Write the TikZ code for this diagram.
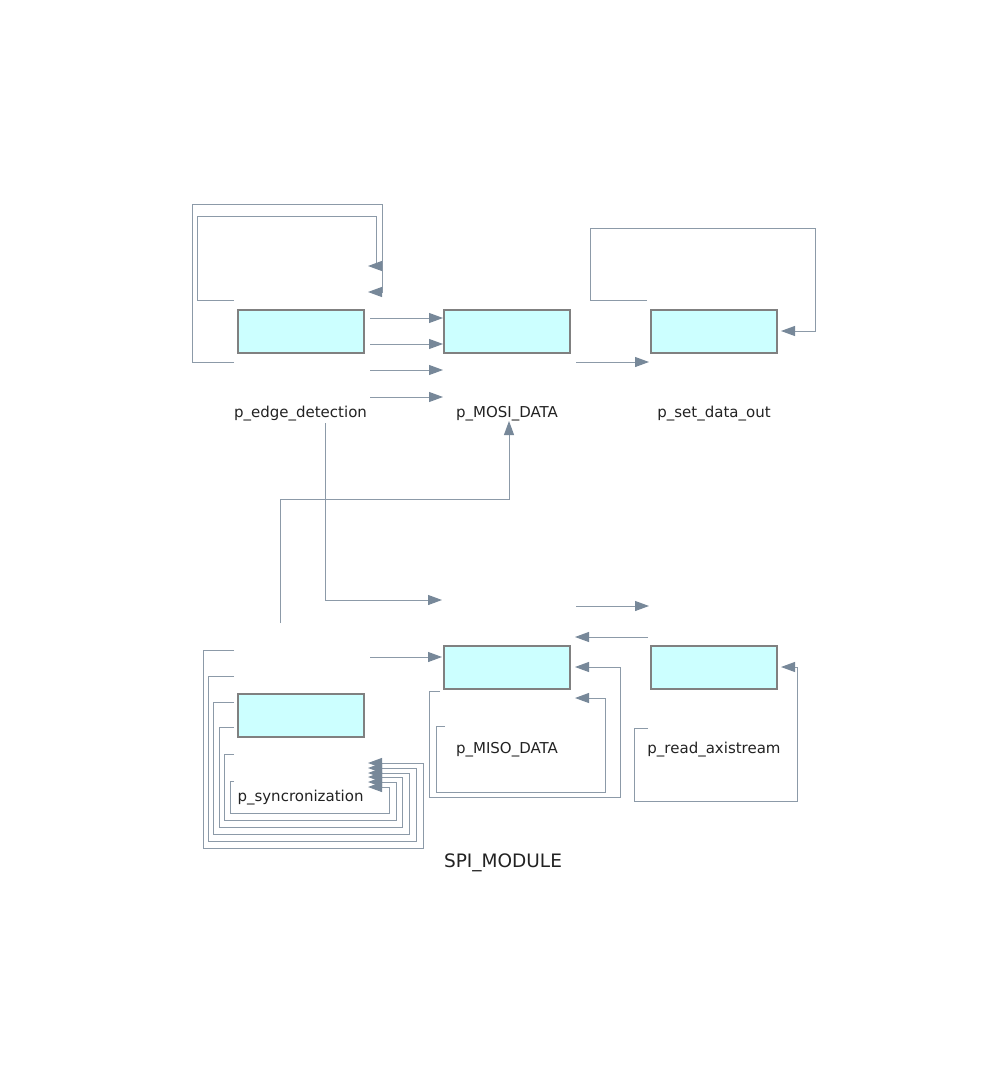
\documentclass[tikz,border=0pt]{standalone}
\usepackage{fontspec}
\setmainfont{DejaVu Sans}
\usetikzlibrary{arrows.meta}
\definecolor{edgec}{RGB}{119,136,153}
\definecolor{wirec}{RGB}{140,154,168}
\definecolor{boxfill}{RGB}{204,255,255}
\definecolor{boxline}{RGB}{128,128,128}
\definecolor{txt}{RGB}{34,34,34}
\begin{document}
\begin{tikzpicture}[x=1pt,y=-1pt,
  procbox/.style={draw=boxline,fill=boxfill,line width=2pt,minimum width=126pt,minimum height=43pt,inner sep=0pt},
  lbl/.style={font=\fontsize{15}{17}\selectfont,text=txt,inner sep=0pt},
  wire/.style={draw=wirec,line width=1pt},
  arr/.style={wire,-{Triangle[length=14pt,width=10pt,color=edgec]}}]
\path[use as bounding box] (0,0) rectangle (1007,1073);
% boxes
\node[procbox] (edge) at (300.5,331) {};
\node[procbox] (mosi) at (507,331) {};
\node[procbox] (setd) at (714,331) {};
\node[procbox] (miso) at (507,667) {};
\node[procbox] (read) at (714,667) {};
\node[procbox] (sync) at (300.5,715) {};
% labels
\node[lbl] (ledge) at (300.5,413.5) {p\_edge\_detection};
\node[lbl] (lmosi) at (507,413.5) {p\_MOSI\_DATA};
\node[lbl] (lset) at (714,413.5) {p\_set\_data\_out};
\node[lbl] (lmiso) at (507,749.5) {p\_MISO\_DATA};
\node[lbl] (lread) at (714,749.5) {p\_read\_axistream};
\node[lbl] (lsync) at (300.5,797.5) {p\_syncronization};
\node[font=\fontsize{18.5}{21}\selectfont,text=txt,inner sep=0pt] (mod) at (503,863) {SPI\_MODULE};
% top-left loops
\draw[arr] (234,362) -- (192,362) -- (192,204) -- (382,204) -- (382,292) -- (368,292);
\draw[arr] (234,300) -- (197,300) -- (197,216) -- (376,216) -- (376,266) -- (368,266);
% edge -> mosi
\foreach \yy in {318,344,370,397} \draw[arr] (370,\yy) -- (443,\yy);
% mosi -> set
\draw[arr] (576,362) -- (649,362);
% set loop
\draw[arr] (647,300) -- (590,300) -- (590,228) -- (815,228) -- (815,331) -- (781,331);
% middle
\draw[arr] (325,423) -- (325,600) -- (442,600);
\draw[arr] (280,623) -- (280,499) -- (509,499) -- (509,421);
\draw[arr] (576,606) -- (649,606);
\draw[arr] (648,637) -- (575,637);
\draw[arr] (370,657) -- (442,657);
% miso loops
\draw[arr] (440,691) -- (429,691) -- (429,797) -- (620,797) -- (620,667) -- (575,667);
\draw[arr] (445,726) -- (436,726) -- (436,792) -- (605,792) -- (605,698) -- (575,698);
% read loop
\draw[arr] (648,728) -- (634,728) -- (634,801) -- (797,801) -- (797,667) -- (781,667);
% sync loops
\draw[arr] (234,650) -- (203,650) -- (203,848) -- (423,848) -- (423,763) -- (368,763);
\draw[arr] (234,676) -- (208,676) -- (208,841) -- (416,841) -- (416,768) -- (368,768);
\draw[arr] (234,702) -- (213,702) -- (213,834) -- (409,834) -- (409,773) -- (368,773);
\draw[arr] (234,727) -- (219,727) -- (219,827) -- (402,827) -- (402,777) -- (368,777);
\draw[arr] (234,754) -- (224,754) -- (224,820) -- (396,820) -- (396,782) -- (368,782);
\draw[arr] (234,781) -- (230,781) -- (230,813) -- (389,813) -- (389,787) -- (368,787);
\end{tikzpicture}
\end{document}
